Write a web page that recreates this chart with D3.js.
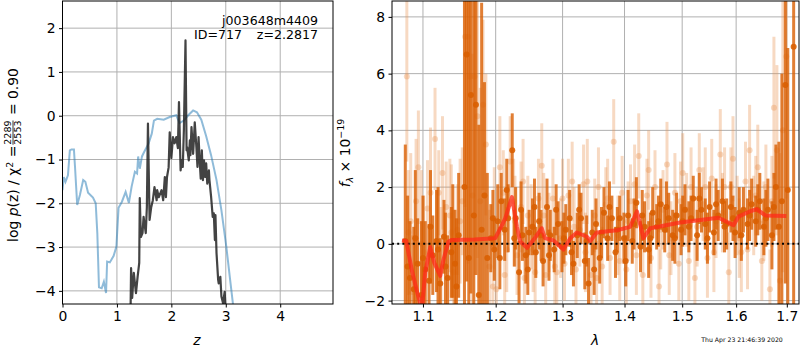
<!DOCTYPE html>
<html>
<head>
<meta charset="utf-8" />
<title>redshift fit</title>
<style>
  body { margin: 0; background: white; }
  svg { font-family: "DejaVu Sans", sans-serif; }
</style>
<script src="https://d3js.org/d3.v7.min.js"></script>
</head>
<body>
<script>
// ---- left panel: log p(z)
var priorZ = [0,0.024,0.055,0.10,0.135,0.165,0.21,0.23,0.27,0.32,0.38,0.42,0.47,0.56,0.61,0.64,0.67,0.72,0.76,0.80,0.82,0.87,0.94,0.99,1.03,1.09,1.16,1.22,1.27,1.33,1.37,1.39,1.42,1.46,1.50,1.58,1.64,1.68,1.74,1.86,1.97,2.09,2.15,2.23,2.31,2.40,2.47,2.55,2.64,2.73,2.83,2.92,3.01,3.08,3.13,3.18];
var priorP = [-1.70,-1.40,-1.51,-1.36,-0.79,-0.77,-0.77,-1.17,-2.04,-1.81,-1.47,-1.51,-1.76,-1.87,-2.00,-2.69,-3.92,-3.94,-3.79,-4.05,-3.33,-3.35,-3.20,-2.99,-2.10,-1.97,-1.74,-1.99,-1.62,-1.28,-1.32,-0.93,-1.21,-0.93,-0.83,-0.64,-0.41,-0.11,-0.07,-0.09,-0.03,0.01,-0.17,-0.11,0.01,0.12,0.08,-0.09,-0.47,-0.90,-1.47,-2.16,-2.99,-3.75,-4.28,-4.7];

var fitZ = [1.25,1.26,1.28,1.31,1.35,1.38,1.41,1.42,1.44,1.47,1.49,1.53,1.55,1.57,1.60,1.63,1.66,1.69,1.73,1.74,1.77,1.82,1.85,1.88,1.90,1.92,1.95,1.97,2.00,2.03,2.06,2.09,2.12,2.14,2.17,2.19,2.21,2.23,2.26,2.28,2.29,2.32,2.34,2.35,2.37,2.40,2.42,2.43,2.46,2.48,2.50,2.52,2.54,2.56,2.58,2.60,2.62,2.64,2.66,2.69,2.70,2.73,2.76,2.78,2.80,2.81,2.83,2.86,2.87,2.90,2.92,2.95,2.98,3.00];
var fitP = [-4.5,-3.48,-4.16,-3.59,-4.05,-3.68,-3.36,-1.88,-2.77,-2.68,-2.31,-2.68,-2.09,-0.18,-2.38,-2.09,-1.93,-1.63,-1.93,-1.70,-1.86,-1.70,-1.93,-1.40,-1.86,-1.40,-1.18,-0.38,-0.97,-0.49,-0.63,-0.49,-0.74,0.31,-1.25,-1.02,-1.17,-0.33,1.72,-0.79,-0.72,-1.02,-0.56,-0.90,-0.26,-0.87,-0.41,-0.15,-0.72,-1.17,-0.49,-1.02,-1.44,-0.79,-1.47,-1.02,-1.40,-1.09,-1.55,-1.25,-1.47,-1.85,-2.31,-2.23,-2.84,-2.27,-3.14,-3.75,-3.83,-3.68,-4.13,-4.28,-4.02,-4.5];

var zTicks = [0, 1, 2, 3, 4];
var pTicks = [-4, -3, -2, -1, 0, 1, 2];

// ---- right panel: spectrum
var darkWave = [1.077,1.083,1.088,1.093,1.098,1.103,1.108,1.113,1.118,1.123,1.128,1.133,1.138,1.143,1.148,1.156,1.159,1.162,1.165,1.169,1.172,1.176,1.180,1.184,1.188,1.193,1.198,1.203,1.208,1.213,1.218,1.224,1.229,1.234,1.239,1.244,1.249,1.254,1.259,1.264,1.270,1.276,1.281,1.287,1.293,1.299,1.305,1.311,1.317,1.323,1.329,1.335,1.341,1.347,1.353,1.359,1.366,1.372,1.379,1.385,1.392,1.399,1.406,1.413,1.420,1.427,1.434,1.441,1.448,1.455,1.462,1.469,1.476,1.483,1.490,1.498,1.505,1.512,1.520,1.527,1.535,1.542,1.550,1.558,1.566,1.574,1.582,1.590,1.598,1.606,1.614,1.622,1.630,1.638,1.646,1.654,1.662,1.670,1.678,1.684,1.690,1.697,1.702,1.714,
  1.080,1.090,1.100,1.110,1.120,1.130,1.140,1.145,1.196,1.206,1.216,1.227,1.237,1.247,1.257,1.267,1.279,1.290,1.302,1.314,1.326,1.338,1.350,1.362,1.375,1.388,1.402,1.416,1.430,1.444,1.458,1.472,1.487,1.501,1.516,1.531,1.546,1.562,1.578,1.594,1.610,1.626,1.642,1.658,1.674];
var darkFlux = [0.1,-1.2,-1.6,-0.7,-1.8,-0.9,-1.3,-0.4,0.1,-1.4,0.25,-1.2,-0.3,-0.7,0.3,2.0,6.67,-0.5,5.25,1.0,4.9,-1.8,0.5,1.7,-0.5,0.2,-0.2,0.8,1.5,0.5,0.9,3.3,0.9,-1.0,0.3,-0.4,0.4,0.6,-0.3,0.8,-0.6,1.3,0.3,-0.2,0.7,-0.1,0.5,0.9,-0.7,0.3,0.9,-0.6,-1.4,0.4,0.7,-0.5,1.1,0.2,0.9,-0.3,0.9,0.2,1.0,0.1,1.45,-0.1,0.6,-0.2,1.1,0.6,1.4,0.5,0.9,0.3,1.0,0.5,1.2,0.6,1.6,0.3,1.2,0.7,1.3,0.4,1.0,1.5,0.7,1.3,0.4,1.1,1.2,0.7,1.4,0.8,1.5,0.6,1.2,0.3,2.0,0.6,1.5,5.6,1.9,6.95,
  -0.8,0.2,-0.5,0.6,-0.2,-0.8,0.1,-1.5,0.9,-0.5,1.9,0.2,1.2,-0.9,1.3,0.3,-0.4,1.2,0.2,-0.3,1.2,0.1,-0.9,0.4,1.3,0.5,-0.6,0.7,1.0,0.2,0.8,1.3,0.2,0.8,0.9,1.6,0.2,1.4,0.6,0.9,0.3,1.0,1.2,0.9,1.3];
var darkErr = [3.4,2.0,2.2,1.6,2.6,1.7,2.0,1.4,1.8,1.6,1.3,1.5,1.6,1.9,2.2,9.0,8.0,9.5,7.0,9.0,6.0,6.0,8.0,4.0,3.0,1.2,1.1,1.3,1.0,1.1,1.2,1.3,1.1,1.1,0.9,1.0,0.8,1.0,0.9,1.0,0.9,1.0,0.9,0.8,0.8,0.9,0.9,1.0,0.8,0.8,0.9,1.0,0.9,0.8,0.9,0.9,0.9,0.8,0.8,0.9,0.8,0.9,0.9,0.8,0.9,0.9,0.9,1.0,0.9,0.8,0.9,0.8,0.9,0.9,0.8,0.9,0.9,0.9,0.8,0.9,0.8,0.9,0.9,0.8,0.9,0.8,0.9,0.9,0.9,0.9,0.8,0.9,0.9,0.9,1.0,1.0,1.1,1.2,1.5,3.0,4.5,7.0,5.0,11.0,
  2.5,2.4,2.2,2.0,2.2,1.9,2.0,2.4,1.0,1.1,1.1,1.0,1.0,0.9,1.0,0.9,0.9,0.9,0.9,0.8,0.9,0.9,0.9,0.9,0.9,0.8,0.9,0.9,0.9,0.9,0.9,0.9,0.9,0.9,0.8,0.9,0.9,0.9,0.9,0.8,0.9,0.9,0.9,1.0,1.2];

var lightWave = [1.079,1.081,1.086,1.091,1.094,1.101,1.106,1.116,1.121,1.126,1.131,1.136,1.141,1.146,1.153,1.157,1.161,1.164,1.167,1.170,1.174,1.178,1.182,1.186,1.191,1.196,1.201,1.206,1.211,1.216,1.221,1.226,1.231,1.237,1.242,1.247,1.252,1.258,1.263,1.268,1.274,1.279,1.285,1.291,1.297,1.303,1.309,1.315,1.321,1.327,1.333,1.339,1.345,1.351,1.357,1.363,1.369,1.376,1.382,1.389,1.396,1.403,1.410,1.417,1.424,1.431,1.438,1.445,1.452,1.459,1.466,1.473,1.480,1.487,1.494,1.501,1.508,1.516,1.523,1.531,1.538,1.546,1.554,1.562,1.570,1.578,1.586,1.594,1.602,1.610,1.618,1.626,1.634,1.642,1.650,1.658,1.666,1.674,1.680,1.686,1.692,1.699,
  1.198,1.213,1.228,1.240,1.255,1.271,1.288,1.300,1.318,1.336,1.354,1.372,1.392,1.406,1.420,1.441,1.462,1.477,1.497,1.512,1.527,1.542,1.558,1.574,1.590,1.606,1.622,1.638,1.654,1.670,1.084,1.098,1.110,1.124,1.138,1.150];
var lightFlux = [5.9,0.4,-1.7,1.5,2.7,-0.3,1.25,3.7,1.8,2.5,1.3,1.0,-1.0,0.5,1.5,7.3,7.3,5.9,1.7,5.9,4.5,1.5,4.9,3.5,-0.8,-1.5,-1.6,2.7,1.8,-0.2,2.9,1.5,-0.4,1.3,-1.2,1.0,0.6,-1.0,1.6,2.75,-1.1,0.4,1.6,-1.0,0.2,-0.7,1.7,2.2,-0.9,0.5,2.1,2.2,-1.1,1.0,2.0,-0.8,1.4,-0.5,3.6,0.3,1.8,-0.9,1.5,2.1,3.1,-1.1,1.7,-0.5,2.0,-1.5,1.2,2.8,0.2,1.8,-0.7,2.5,1.2,2.0,-1.2,2.6,1.4,-0.5,2.3,0.8,3.15,2.0,-1.0,3.0,1.0,-0.3,2.2,3.3,1.0,2.7,-0.6,2.0,-1.6,4.8,3.3,-1.3,4.0,6.6,
  0.9,-1.1,0.8,2.2,-0.2,1.0,-0.8,1.6,0.6,-0.3,-1.2,1.6,-0.6,0.8,-0.4,2.6,0.5,-0.4,1.5,-0.6,0.6,2.0,-0.3,1.1,2.0,0.2,-0.2,1.7,0.8,1.5,0.8,0.0,1.8,-0.8,0.4,0.8];
var lightErr = [3.0,2.2,2.0,2.2,2.0,2.0,1.7,1.8,1.5,2.0,1.6,2.0,2.2,1.6,1.9,6.0,8.0,6.0,5.0,6.0,5.0,4.0,3.0,2.5,2.0,1.8,1.9,1.8,1.5,1.5,1.6,1.5,1.4,1.6,1.5,1.4,1.5,1.3,1.4,1.5,1.4,1.4,1.4,1.3,1.4,1.3,1.3,1.4,1.4,1.3,1.4,1.5,1.4,1.3,1.4,1.4,1.3,1.3,1.5,1.4,1.3,1.4,1.3,1.4,1.5,1.4,1.3,1.4,1.3,1.3,1.4,1.5,1.3,1.4,1.3,1.4,1.3,1.4,1.4,1.3,1.3,1.4,1.4,1.3,1.6,1.4,1.4,1.5,1.4,1.4,1.4,1.6,1.4,1.5,1.4,1.5,1.4,2.5,3.0,4.5,5.0,5.0,
  1.8,1.6,1.6,1.5,1.5,1.5,1.4,1.4,1.4,1.4,1.3,1.4,1.4,1.4,1.4,1.4,1.4,1.4,1.4,1.4,1.4,1.4,1.4,1.4,1.4,1.4,1.4,1.4,1.4,1.6,2.4,2.6,2.3,2.1,2.4,2.2];

var modelWave = [1.0727,1.0782,1.0856,1.0929,1.0987,1.103,1.1097,1.1149,1.123,1.1274,1.1342,1.1388,1.17,1.1993,1.2066,1.2138,1.2236,1.2309,1.2357,1.2458,1.2556,1.268,1.2728,1.286,1.3014,1.312,1.3224,1.3384,1.3437,1.3545,1.3873,1.4095,1.4209,1.4321,1.4437,1.4964,1.5666,1.595,1.6046,1.627,1.640,1.657,1.699];
var modelFlux = [0.12,0.10,-0.95,-1.76,-2.3,-1.0,-0.12,-0.66,-1.13,-0.55,0.08,0.14,0.15,0.20,0.54,0.9,1.65,0.6,0.08,-0.14,0.14,0.55,0.2,0.12,-0.2,0.2,0.4,0.25,0.1,0.4,0.48,0.6,1.15,0.2,0.55,0.75,0.92,0.66,0.96,1.15,1.22,1.0,0.98];

var lamTicks = [1.1, 1.2, 1.3, 1.4, 1.5, 1.6, 1.7];
var fluxTicks = [-2, 0, 2, 4, 6, 8];

var width = 800, height = 350;
var fs = 13.9;

var svg = d3.select("body").append("svg")
  .attr("width", width).attr("height", height);

// clip paths
var defs = svg.append("defs");
defs.append("clipPath").attr("id", "clipL").append("rect")
  .attr("x", 62.5).attr("y", 1).attr("width", 270.5).attr("height", 303);
defs.append("clipPath").attr("id", "clipR").append("rect")
  .attr("x", 392).attr("y", 1).attr("width", 407).attr("height", 303);

// ---------- left panel
var xL = d3.scaleLinear().domain([0, 4.97]).range([62.5, 333]);
var yL = d3.scaleLinear().domain([-4.30, 2.62]).range([304, 1]);

var gL = svg.append("g");
gL.selectAll(".vg").data(zTicks).enter().append("line")
  .attr("x1", d => xL(d)).attr("x2", d => xL(d)).attr("y1", 1).attr("y2", 304)
  .attr("stroke", "#b0b0b0").attr("stroke-width", 1);
gL.selectAll(".hg").data(pTicks).enter().append("line")
  .attr("y1", d => yL(d)).attr("y2", d => yL(d)).attr("x1", 62.5).attr("x2", 333)
  .attr("stroke", "#b0b0b0").attr("stroke-width", 1);

var lineL = d3.line().x(d => xL(d[0])).y(d => yL(d[1]));
var curves = gL.append("g").attr("clip-path", "url(#clipL)");
curves.append("path")
  .attr("d", lineL(d3.zip(priorZ, priorP)))
  .attr("fill", "none").attr("stroke", "#1f77b4").attr("stroke-opacity", 0.5)
  .attr("stroke-width", 2);
curves.append("path")
  .attr("d", lineL(d3.zip(fitZ, fitP)))
  .attr("fill", "none").attr("stroke", "#222").attr("stroke-opacity", 0.85)
  .attr("stroke-width", 2.2).attr("stroke-linejoin", "round");

gL.append("g").attr("transform", "translate(0,304)")
  .call(d3.axisBottom(xL).tickValues(zTicks).tickFormat(d3.format("d")).tickSizeOuter(0).tickSize(3.5).tickPadding(3.5));
gL.append("g").attr("transform", "translate(62.5,0)")
  .call(d3.axisLeft(yL).tickValues(pTicks).tickFormat(d => d < 0 ? "\u2212" + Math.abs(d) : d).tickSizeOuter(0).tickSize(3.5).tickPadding(3.5));
gL.append("rect").attr("x", 62.5).attr("y", 1).attr("width", 270.5).attr("height", 303)
  .attr("fill", "none").attr("stroke", "black").attr("stroke-width", 1);

gL.append("text").attr("x", 318).attr("y", 25).attr("text-anchor", "end")
  .attr("font-size", 12.6).text("j003648m4409");
gL.append("text").attr("x", 242).attr("y", 39).attr("text-anchor", "end")
  .attr("font-size", 12.6).text("ID=717");
gL.append("text").attr("x", 318).attr("y", 39).attr("text-anchor", "end")
  .attr("font-size", 12.6).text("z=2.2817");

gL.append("text").attr("x", 197).attr("y", 345).attr("text-anchor", "middle")
  .attr("font-size", fs).attr("font-style", "italic").text("z");

// y label with fraction
var lab = svg.append("g");
var t1 = lab.append("text").attr("font-size", fs).attr("x", 0).attr("y", 0);
t1.append("tspan").text("log ");
t1.append("tspan").attr("font-style", "italic").text("p");
t1.append("tspan").text("(z) / \u03c7");
t1.append("tspan").attr("font-size", 9.5).attr("dy", -5).text("2");
t1.append("tspan").attr("dy", 5).text(" = ");
var w1 = t1.node().getComputedTextLength();
var num = lab.append("text").attr("font-size", 9.5).attr("x", w1 + 1).attr("y", -7).text("2289");
var fw = num.node().getComputedTextLength();
lab.append("text").attr("font-size", 9.5).attr("x", w1 + 1).attr("y", 3).text("2553");
lab.append("line").attr("x1", w1 + 1).attr("x2", w1 + 1 + fw).attr("y1", -5).attr("y2", -5)
  .attr("stroke", "black").attr("stroke-width", 0.8);
var t3 = lab.append("text").attr("font-size", fs).attr("x", w1 + fw + 2).attr("y", 0).attr("xml:space", "preserve").text(" = 0.90");
var total = w1 + fw + 2 + t3.node().getComputedTextLength();
lab.attr("transform", "translate(18," + (155 + total / 2) + ") rotate(-90)");

// ---------- right panel
var xR = d3.scaleLog().domain([1.06, 1.725]).range([392, 799]);
var yR = d3.scaleLinear().domain([-2.12, 8.56]).range([304, 1]);

var gR = svg.append("g");
gR.selectAll(".vg").data(lamTicks).enter().append("line")
  .attr("x1", d => xR(d)).attr("x2", d => xR(d)).attr("y1", 1).attr("y2", 304)
  .attr("stroke", "#b0b0b0").attr("stroke-width", 1);
gR.selectAll(".hg").data(fluxTicks).enter().append("line")
  .attr("y1", d => yR(d)).attr("y2", d => yR(d)).attr("x1", 392).attr("x2", 799)
  .attr("stroke", "#b0b0b0").attr("stroke-width", 1);

var spec = gR.append("g").attr("clip-path", "url(#clipR)");
var light = d3.zip(lightWave, lightFlux, lightErr);
var dark = d3.zip(darkWave, darkFlux, darkErr);

spec.selectAll(".lbar").data(light).enter().append("line")
  .attr("x1", d => xR(d[0])).attr("x2", d => xR(d[0]))
  .attr("y1", d => yR(d[1] - d[2])).attr("y2", d => yR(d[1] + d[2]))
  .attr("stroke", "#e8934f").attr("stroke-opacity", 0.35).attr("stroke-width", 3);
spec.selectAll(".ldot").data(light).enter().append("circle")
  .attr("cx", d => xR(d[0])).attr("cy", d => yR(d[1])).attr("r", 3)
  .attr("fill", "#e8934f").attr("fill-opacity", 0.35);

spec.selectAll(".dbar").data(dark).enter().append("line")
  .attr("x1", d => xR(d[0])).attr("x2", d => xR(d[0]))
  .attr("y1", d => yR(d[1] - d[2])).attr("y2", d => yR(d[1] + d[2]))
  .attr("stroke", "#d95f02").attr("stroke-opacity", 0.8).attr("stroke-width", 3);
spec.selectAll(".ddot").data(dark).enter().append("circle")
  .attr("cx", d => xR(d[0])).attr("cy", d => yR(d[1])).attr("r", 3)
  .attr("fill", "#d95f02").attr("fill-opacity", 0.9);

spec.append("line").attr("x1", 392).attr("x2", 799).attr("y1", yR(0)).attr("y2", yR(0))
  .attr("stroke", "black").attr("stroke-width", 2).attr("stroke-dasharray", "2,3.2");

spec.append("path")
  .attr("d", d3.line().x(d => xR(d[0])).y(d => yR(d[1]))(d3.zip(modelWave, modelFlux)))
  .attr("fill", "none").attr("stroke", "#ff2a1a").attr("stroke-opacity", 0.75)
  .attr("stroke-width", 4).attr("stroke-linejoin", "round");

gR.append("g").attr("transform", "translate(0,304)")
  .call(d3.axisBottom(xR).tickValues(lamTicks).tickFormat(d3.format(".1f")).tickSizeOuter(0).tickSize(3.5).tickPadding(3.5));
gR.append("g").attr("transform", "translate(392,0)")
  .call(d3.axisLeft(yR).tickValues(fluxTicks).tickFormat(d => d < 0 ? "\u2212" + Math.abs(d) : d).tickSizeOuter(0).tickSize(3.5).tickPadding(3.5));
gR.append("rect").attr("x", 392).attr("y", 1).attr("width", 407).attr("height", 303)
  .attr("fill", "none").attr("stroke", "black").attr("stroke-width", 1);

gR.append("text").attr("x", 595).attr("y", 345).attr("text-anchor", "middle")
  .attr("font-size", fs).attr("font-style", "italic").text("\u03bb");

var ylab = gR.append("text").attr("font-size", fs).attr("text-anchor", "middle")
  .attr("transform", "translate(350,153) rotate(-90)");
ylab.append("tspan").attr("font-style", "italic").text("f");
ylab.append("tspan").attr("font-size", 9.5).attr("font-style", "italic").attr("dy", 3).text("\u03bb");
ylab.append("tspan").attr("dy", -3).text(" \u00d7 10");
ylab.append("tspan").attr("font-size", 9.5).attr("dy", -6).text("\u221219");

svg.append("text").attr("x", 742).attr("y", 342).attr("text-anchor", "middle")
  .attr("font-size", 6.2).attr("fill", "black").text("Thu Apr 23 21:46:39 2020");

svg.selectAll(".tick text").attr("font-size", fs).attr("font-family", "DejaVu Sans").attr("fill", "black");
svg.selectAll(".domain").remove();
</script>
</body>
</html>
